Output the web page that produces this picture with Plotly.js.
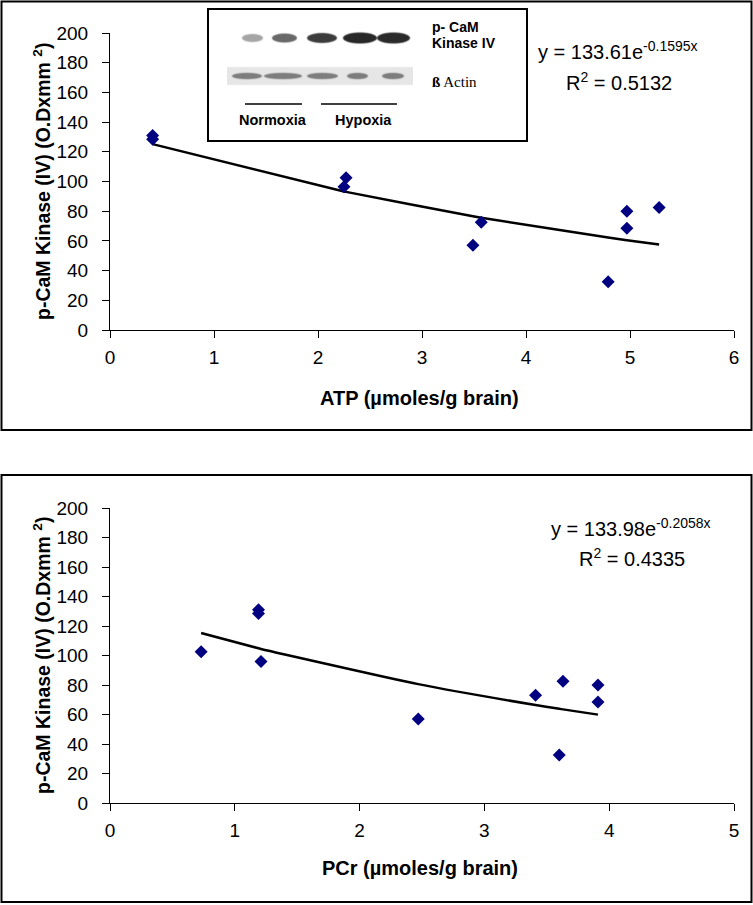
<!DOCTYPE html>
<html>
<head>
<meta charset="utf-8">
<script src="https://cdn.plot.ly/plotly-3.0.1.min.js"></script>
<style>
  html, body { margin: 0; padding: 0; background: #ffffff; }
  #chart { width: 753px; height: 905px; }
</style>
</head>
<body>
<div id="chart"></div>
<script>
// ---------- data ----------
const atpValues   = [0.41, 0.41, 2.27, 2.25, 3.49, 3.57, 4.79, 4.97, 4.97, 5.28];
const kinaseAtp   = [131, 128.5, 102.5, 96.5, 57, 72.5, 32.5, 80, 68.5, 82.5];
const pcrValues   = [0.73, 1.19, 1.19, 1.21, 2.47, 3.41, 3.63, 3.60, 3.91, 3.91];
const kinasePcr   = [102.5, 131, 128.5, 96, 57, 73, 82.5, 32.5, 80, 68.5];
const fitAtp      = [133.61, -0.1595];   // y = a * e^(b x)
const fitPcr      = [133.98, -0.2058];
const r2Atp       = "0.5132";
const r2Pcr       = "0.4335";
const xTitleTop   = "ATP (µmoles/g brain)";
const xTitleBot   = "PCr (µmoles/g brain)";
const yTitle      = "p-CaM Kinase (IV) (O.Dxmm <sup>2</sup>)";
const blotLabels  = ["p- CaM", "Kinase IV", "ß", "Actin", "Normoxia", "Hypoxia"];

// trend curve evaluated at the observed x values of each series
function trend(xs, fit) {
  const u = Array.from(new Set(xs)).sort((a, b) => a - b);
  return { x: u, y: u.map(v => fit[0] * Math.exp(fit[1] * v)) };
}
const tA = trend(atpValues, fitAtp);
const tP = trend(pcrValues, fitPcr);

// ---------- geometry helpers (pixels -> paper) ----------
const W = 753, H = 905;
const px = v => v / W;
const py = v => 1 - v / H;

const FONT = "Liberation Sans, Arial, sans-serif";
const navy = "#000080";

const traces = [
  { x: tA.x, y: tA.y, mode: "lines", line: { color: "#000", width: 2.5, shape: "spline", smoothing: 0.6 },
    xaxis: "x", yaxis: "y", hoverinfo: "skip" },
  { x: atpValues, y: kinaseAtp, mode: "markers",
    marker: { symbol: "diamond", size: 10, color: navy }, xaxis: "x", yaxis: "y" },
  { x: tP.x, y: tP.y, mode: "lines", line: { color: "#000", width: 2.5, shape: "spline", smoothing: 0.6 },
    xaxis: "x2", yaxis: "y2", hoverinfo: "skip" },
  { x: pcrValues, y: kinasePcr, mode: "markers",
    marker: { symbol: "diamond", size: 10, color: navy }, xaxis: "x2", yaxis: "y2" }
];

const axisStyle = {
  showline: true, linecolor: "#000", linewidth: 1,
  ticks: "outside", ticklen: 7, tickcolor: "#000", tickwidth: 1,
  showgrid: false, zeroline: false, fixedrange: true,
  tickfont: { family: FONT, size: 19, color: "#000" }
};

const xDom = [px(110), px(734)];

function ann(text, x, y, size, extra) {
  return Object.assign({
    text: text, xref: "paper", yref: "paper", x: px(x), y: py(y),
    xanchor: "center", yanchor: "middle", showarrow: false,
    font: { family: FONT, size: size, color: "#000" }
  }, extra || {});
}

const layout = {
  width: W, height: H,
  margin: { l: 0, r: 0, t: 0, b: 0 },
  paper_bgcolor: "#fff", plot_bgcolor: "#fff",
  showlegend: false,
  font: { family: FONT, color: "#000" },
  xaxis:  Object.assign({}, axisStyle, { domain: xDom, range: [0, 6], dtick: 1, anchor: "y", ticklabelstandoff: 3 }),
  yaxis:  Object.assign({}, axisStyle, { domain: [py(330), py(33)], range: [0, 200], dtick: 20, anchor: "x", ticklabelstandoff: 10 }),
  xaxis2: Object.assign({}, axisStyle, { domain: xDom, range: [0, 5], dtick: 1, anchor: "y2", ticklabelstandoff: 3 }),
  yaxis2: Object.assign({}, axisStyle, { domain: [py(803), py(508)], range: [0, 200], dtick: 20, anchor: "x2", ticklabelstandoff: 10 }),
  shapes: [
    // outer frames
    { type: "rect", xref: "paper", yref: "paper", x0: px(1.5), x1: px(751.5), y0: py(430), y1: py(1.5),
      line: { color: "#000", width: 2 } },
    { type: "rect", xref: "paper", yref: "paper", x0: px(1.5), x1: px(751.5), y0: py(902), y1: py(475),
      line: { color: "#000", width: 2 } },
    // inset frame
    { type: "rect", xref: "paper", yref: "paper", x0: px(208), x1: px(527), y0: py(141), y1: py(9),
      line: { color: "#000", width: 2 } },
    // group lines
    { type: "line", xref: "paper", yref: "paper", x0: px(245), x1: px(302), y0: py(104), y1: py(104),
      line: { color: "#000", width: 1.5 } },
    { type: "line", xref: "paper", yref: "paper", x0: px(321), x1: px(397), y0: py(104), y1: py(104),
      line: { color: "#000", width: 1.5 } }
  ],
  annotations: [
    // y titles
    ann("<b>" + yTitle + "</b>", 42, 182, 19.5, { textangle: -90 }),
    ann("<b>" + yTitle + "</b>", 42, 656, 19.5, { textangle: -90 }),
    // x titles
    ann("<b>" + xTitleTop + "</b>", 420, 398, 20),
    ann("<b>" + xTitleBot + "</b>", 420, 868, 20),
    // equations
    ann("y = " + fitAtp[0] + "e<sup>" + fitAtp[1] + "x</sup>", 618, 51, 20),
    ann("R<sup>2</sup> = " + r2Atp, 619, 81, 20),
    ann("y = " + fitPcr[0] + "e<sup>" + fitPcr[1] + "x</sup>", 631, 527, 20),
    ann("R<sup>2</sup> = " + r2Pcr, 632, 557, 20),
    // inset labels
    ann("<b>" + blotLabels[0] + "</b>", 430, 27, 14, { xanchor: "left" }),
    ann("<b>" + blotLabels[1] + "</b>", 430, 43, 14, { xanchor: "left" }),
    ann("<b>" + blotLabels[2] + "</b> " + blotLabels[3], 430, 82, 15,
        { xanchor: "left", font: { family: "Liberation Serif, Times New Roman, serif", size: 15, color: "#000" } }),
    ann("<b>" + blotLabels[4] + "</b>", 273, 120, 14.5),
    ann("<b>" + blotLabels[5] + "</b>", 363, 120, 14.5)
  ],
  images: []
};

// ---------- western-blot picture drawn on a canvas ----------
(function () {
  const bx = 225, by = 24, bw = 192, bh = 66;
  const S = 3;
  const c = document.createElement("canvas");
  c.width = bw * S; c.height = bh * S;
  const g = c.getContext("2d");
  g.scale(S, S);
  g.fillStyle = "#fff"; g.fillRect(0, 0, bw, bh);
  // actin row background
  g.fillStyle = "#e6e6e6"; g.fillRect(227 - bx, 67 - by, 186, 18);
  g.filter = "blur(1.8px)";
  const top = [[242, 263, 165, 8], [272, 297, 105, 9], [307, 337, 60, 10], [343, 377, 40, 11], [377, 410, 42, 11]];
  top.forEach(b => {
    g.fillStyle = "rgb(" + b[2] + "," + b[2] + "," + b[2] + ")";
    g.beginPath();
    g.ellipse((b[0] + b[1]) / 2 - bx, 38 - by, (b[1] - b[0]) / 2, b[3] / 2, 0, 0, Math.PI * 2);
    g.fill();
  });
  const act = [[232, 262], [264, 302], [307, 338], [347, 368], [382, 404]];
  act.forEach(b => {
    g.fillStyle = "rgb(125,125,125)";
    g.beginPath();
    g.ellipse((b[0] + b[1]) / 2 - bx, 76 - by, (b[1] - b[0]) / 2, 3.2, 0, 0, Math.PI * 2);
    g.fill();
  });
  layout.images.push({
    source: c.toDataURL("image/png"),
    xref: "paper", yref: "paper", x: px(bx), y: py(by),
    sizex: bw / W, sizey: bh / H, xanchor: "left", yanchor: "top",
    sizing: "stretch", layer: "above"
  });
})();

Plotly.newPlot("chart", traces, layout, { displayModeBar: false, staticPlot: true });
</script>
</body>
</html>
